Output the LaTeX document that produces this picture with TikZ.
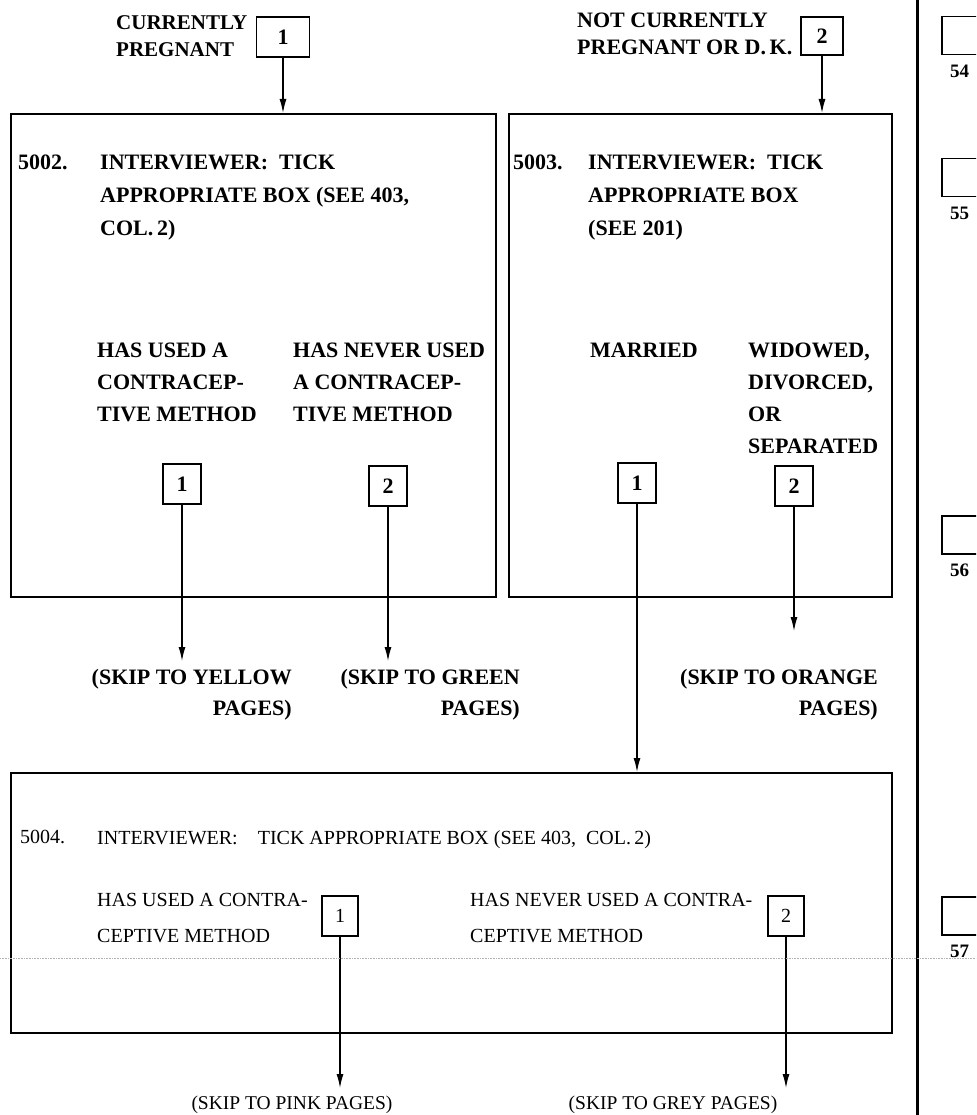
\documentclass[tikz,border=0pt]{standalone}
\usepackage{fontspec}
\setmainfont{Liberation Serif}
\usetikzlibrary{positioning,arrows.meta}
\newcommand{\qfont}{\fontsize{22}{32}\selectfont\bfseries}
\newcommand{\cfont}{\fontsize{20}{36}\selectfont}
\tikzset{
  qframe/.style={draw, line width=1.6pt, inner sep=0pt, anchor=north west},
  chk/.style={draw, line width=1.5pt, minimum width=38pt, minimum height=40pt,
              inner sep=0pt, font=\qfont},
  qtext/.style={anchor=north west, align=left, inner sep=0pt, font=\qfont},
  ctext/.style={qtext, font=\cfont},
  toplbl/.style={qtext, font=\fontsize{22}{27}\selectfont\bfseries},
  skiplbl/.style={anchor=north east, align=right, inner sep=0pt,
                  font=\fontsize{22}{31}\selectfont\bfseries},
  cskip/.style={anchor=north, inner sep=0pt, font=\fontsize{19.5}{20}\selectfont},
  flow/.style={-{Latex[length=14pt,width=7pt]}, line width=1.3pt},
  codebox/.style={draw, line width=1.5pt, minimum width=60pt, minimum height=38pt,
                  inner sep=0pt, anchor=north west},
  codelbl/.style={inner sep=0pt, font=\fontsize{19}{19}\selectfont\bfseries}
}
\begin{document}
\begin{tikzpicture}[x=1pt, y=-1pt]
  \useasboundingbox (0,0) rectangle (976,1115);
  \clip (0,0) rectangle (976,1115);
  % filter question
  \node[toplbl, font=\fontsize{21}{27}\selectfont\bfseries] (preg) at (116,15) {CURRENTLY\\PREGNANT};
  \node[chk, minimum width=53pt, minimum height=40pt] (p1) at (283,37) {1};
  \node[toplbl] (npreg) at (577,13) {NOT CURRENTLY\\PREGNANT OR D.\,K.};
  \node[chk, minimum width=42pt, minimum height=38pt] (p2) at (822,36) {2};
  % frames
  \node[qframe, minimum width=485pt, minimum height=483pt] (f5002) at (10,113) {};
  \node[qframe, minimum width=383pt, minimum height=483pt] (f5003) at (508,113) {};
  \node[qframe, minimum width=881pt, minimum height=260pt] (f5004) at (10,772) {};
  \draw[flow] (p1) -- (p1 |- f5002.north);
  \draw[flow] (p2) -- (p2 |- f5003.north);
  % 5002
  \node[qtext] (n5002) at (18,155) {5002.};
  \node[qtext, font=\fontsize{22}{33}\selectfont\bfseries] (i5002) at (100,155) {INTERVIEWER:\ \ TICK\\APPROPRIATE BOX (SEE 403,\\COL.\,2)};
  \node[qtext] (used) at (97,343) {HAS USED A\\CONTRACEP-\\TIVE METHOD};
  \node[qtext] (never) at (293,343) {HAS NEVER USED\\A CONTRACEP-\\TIVE METHOD};
  \node[chk] (a1) at (182,484) {1};
  \node[chk] (a2) at (388,486) {2};
  \node[skiplbl] (yellow) at (292,669) {(SKIP TO YELLOW\\PAGES)};
  \node[skiplbl] (green) at (520,669) {(SKIP TO GREEN\\PAGES)};
  \draw[flow, shorten >=8pt] (a1) -- (a1 |- yellow.north);
  \draw[flow, shorten >=8pt] (a2) -- (a2 |- green.north);
  % 5003
  \node[qtext] (n5003) at (513,155) {5003.};
  \node[qtext, font=\fontsize{22}{33}\selectfont\bfseries] (i5003) at (588,155) {INTERVIEWER:\ \ TICK\\APPROPRIATE BOX\\(SEE 201)};
  \node[qtext] (married) at (590,343) {MARRIED};
  \node[qtext] (widowed) at (748,343) {WIDOWED,\\DIVORCED,\\OR\\SEPARATED};
  \node[chk] (b1) at (637,483) {1};
  \node[chk] (b2) at (794,486) {2};
  \node[skiplbl] (orange) at (878,669) {(SKIP TO ORANGE\\PAGES)};
  \draw[flow] (b1) -- (b1 |- f5004.north);
  \draw[flow, shorten >=38pt] (b2) -- (b2 |- orange.north);
  % 5004
  \node[ctext] (n5004) at (20,830) {5004.};
  \node[ctext] (i5004) at (97,830) {INTERVIEWER:\quad TICK APPROPRIATE BOX (SEE 403,\ \ COL.\,2)};
  \node[ctext] (cused) at (97,893) {HAS USED A CONTRA-\\CEPTIVE METHOD};
  \node[ctext] (cnever) at (470,893) {HAS NEVER USED A CONTRA-\\CEPTIVE METHOD};
  \node[chk, minimum width=36pt, font=\cfont] (c1) at (340,916) {1};
  \node[chk, minimum width=36pt, font=\cfont] (c2) at (786,916) {2};
  \node[cskip] (pink) at (292,1096) {(SKIP TO PINK PAGES)};
  \node[cskip] (grey) at (673,1096) {(SKIP TO GREY PAGES)};
  \draw[flow, shorten >=8pt] (c1) -- (c1 |- pink.north);
  \draw[flow, shorten >=8pt] (c2) -- (c2 |- grey.north);
  % margin column
  \draw[line width=3pt] (917,0) -- (917,1115);
  \foreach \n/\y in {54/16,55/158,56/515,57/896}{
    \node[codebox] (c\n) at (941,\y) {};
    \node[codelbl, below right=9pt and 9pt of c\n.south west] (l\n) {\n};
  }
  \draw[gray!60, densely dotted, line width=0.6pt] (0,958) -- (976,958);
\end{tikzpicture}
\end{document}
